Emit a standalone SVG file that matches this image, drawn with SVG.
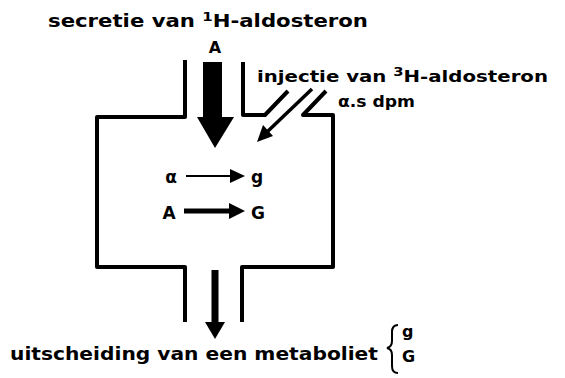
<svg xmlns="http://www.w3.org/2000/svg" width="565" height="378" viewBox="0 0 565 378">
<style>
.t{font-family:"DejaVu Sans","Liberation Sans",sans-serif;font-weight:bold;fill:#000}
.w{fill:none;stroke:#000;stroke-width:4;stroke-linejoin:round;stroke-linecap:butt}
</style>
<rect width="565" height="378" fill="#fff"/>
<g id="vessel">
<path class="w" d="M185,60 V117 H97 V267 H185 V322"/>
<path class="w" d="M242,322 V267 H333 V115 H303 L326,91"/>
<path class="w" d="M243,62 V115 H265 L288,91"/>
</g>
<g id="connectors">
<path d="M203,62 H222 V117 H234 L215,148 L197,117 H203 Z" fill="#000"/>
<line x1="312" y1="89" x2="267" y2="132" stroke="#000" stroke-width="3.5"/>
<polygon points="257,142 273,136 263,125" fill="#000"/>
<line x1="215" y1="270" x2="215" y2="325" stroke="#000" stroke-width="7"/>
<polygon points="205,322 225,322 215,339" fill="#000"/>
<line x1="186" y1="176" x2="232" y2="176" stroke="#000" stroke-width="2"/>
<polygon points="230,169 245,176 230,183" fill="#000"/>
<line x1="184" y1="211" x2="232" y2="211" stroke="#000" stroke-width="5"/>
<polygon points="229,203 245,211 229,219" fill="#000"/>
</g>
<g id="secretie">
<text class="t" x="48" y="27" font-size="17" textLength="320" lengthAdjust="spacingAndGlyphs">secretie van <tspan font-size="12" dy="-6">1</tspan><tspan dy="6">H-aldosteron</tspan></text>
<text class="t" x="215" y="53" font-size="16" text-anchor="middle">A</text>
</g>
<g id="injectie">
<text class="t" x="257" y="82" font-size="16" textLength="291" lengthAdjust="spacingAndGlyphs">injectie van <tspan font-size="12" dy="-6">3</tspan><tspan dy="6">H-aldosteron</tspan></text>
<text class="t" x="338" y="107" font-size="16" textLength="77" lengthAdjust="spacingAndGlyphs">α.s dpm</text>
</g>
<g id="reactions">
<text class="t" x="171" y="183" font-size="17" text-anchor="middle">α</text>
<text class="t" x="257" y="183" font-size="17" text-anchor="middle">g</text>
<text class="t" x="169" y="219" font-size="17" text-anchor="middle">A</text>
<text class="t" x="258" y="219" font-size="17" text-anchor="middle">G</text>
</g>
<g id="uitscheiding">
<text class="t" x="10" y="360" font-size="17" textLength="368" lengthAdjust="spacingAndGlyphs">uitscheiding van een metaboliet</text>
<path d="M398,325 Q392,325 392,332 V341 Q392,347 387,348 Q392,349 392,355 V366 Q392,373 398,373" fill="none" stroke="#000" stroke-width="2"/>
<text class="t" x="402" y="337" font-size="16">g</text>
<text class="t" x="402" y="362" font-size="16">G</text>
</g>
</svg>
